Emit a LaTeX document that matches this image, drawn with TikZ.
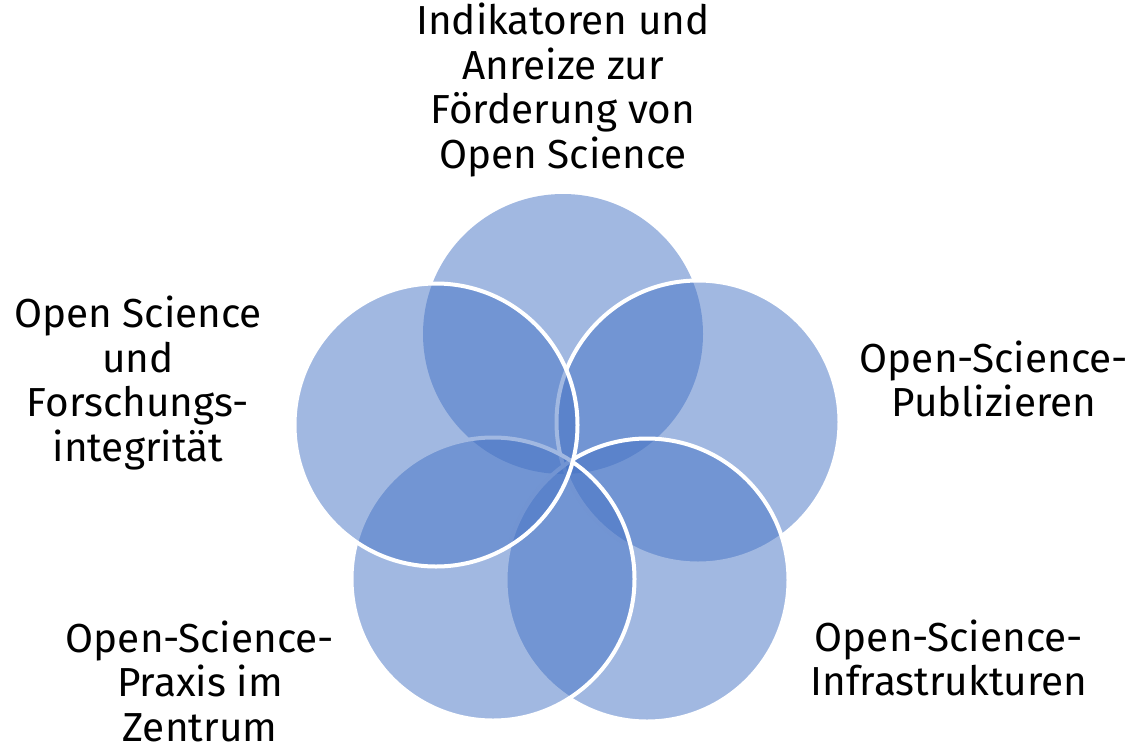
\documentclass[tikz,border=0pt]{standalone}
\usepackage{fontspec}
\setmainfont{Fira Sans}
\usetikzlibrary{positioning}
\definecolor{ringblue}{HTML}{4472C4}
\begin{document}
\begin{tikzpicture}[x=1pt,y=-1pt, ring/.style={circle,fill=ringblue,fill opacity=.5,draw=white,draw opacity=1,line width=4pt,minimum size=283pt,inner sep=0pt},lbl/.style={align=center,font=\fontsize{40.5}{44.5}\selectfont}]
                      \useasboundingbox (0,0) rectangle (1130,742);
                      \node[ring,draw=none,minimum size=280pt] (c1) at (563,334) {};
                      \node[ring] (c2) at (698,422) {};
                      \node[ring] (c3) at (647,580) {};
                      \node[ring] (c4) at (493,579) {};
                      \node[ring] (c5) at (436,425) {};

                      \node[lbl] (t1) at (563,90) {Indikatoren und\\Anreize zur\\Förderung von\\Open Science};
                      \node[lbl] (t2) at (994,379) {Open-Science-\\Publizieren};
                      \node[lbl] (t3) at (949,658) {Open-Science-\\Infrastrukturen};
                      \node[lbl] (t4) at (200,681) {Open-Science-\\Praxis im\\Zentrum};
                      \node[lbl] (t5) at (138,383) {Open Science\\und\\Forschungs-\\integrität};
                    \end{tikzpicture}
\end{document}
